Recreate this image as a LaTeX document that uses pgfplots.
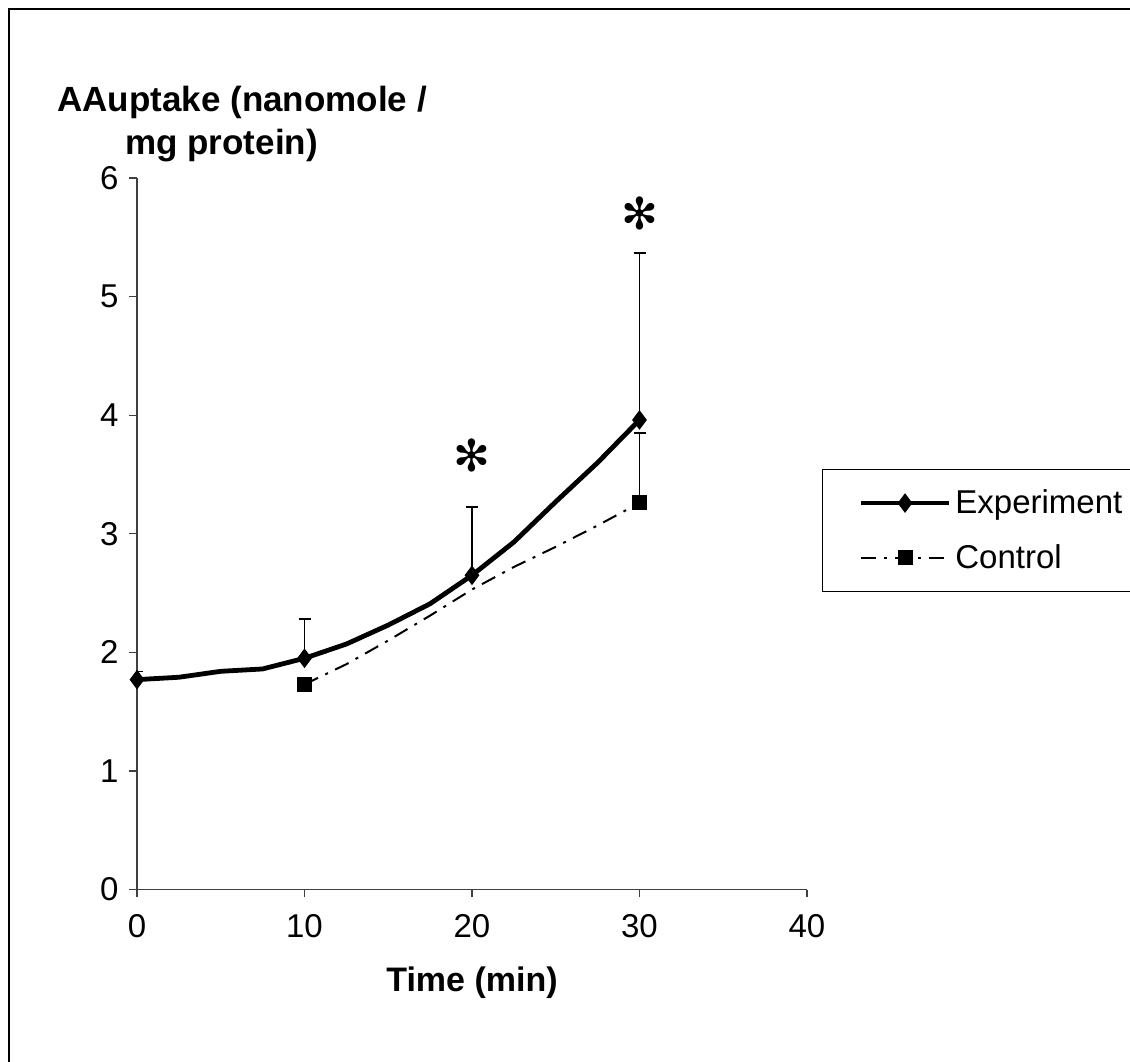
\documentclass[border=0pt]{standalone}
\usepackage{pgfplots}
\pgfplotsset{compat=1.18}
\usepackage{fontspec}
\setmainfont{Liberation Sans}
\newfontfamily\dejavu{DejaVu Sans}

\begin{document}
\begin{tikzpicture}
% page = 1130 x 1061 px, 1 px = 0.5pt, origin at top left
\useasboundingbox (0,0) rectangle (565pt,-530.5pt);
\draw[line width=1pt] (4.25pt,-540pt) -- (4.25pt,-4.25pt) -- (580pt,-4.25pt);

\begin{axis}[
    at={(68.5pt,-444.75pt)}, anchor=south west,
    scale only axis, width=335pt, height=355.75pt,
    xmin=0, xmax=40, ymin=0, ymax=6,
    xtick={0,10,...,40}, ytick={0,1,...,6},
    axis x line=bottom, axis y line=left,
    axis line style={-, line width=0.6pt, black!75},
    tick style={line width=0.6pt, black!75},
    tick align=outside, major tick length=3.75pt,
    /pgf/number format/assume math mode=true,
    tick label style={font=\fontsize{16.5}{19}\selectfont},
    xticklabel style={yshift=-5pt},
    yticklabel style={xshift=-2pt},
    xlabel={\textbf{Time (min)}},
    xlabel style={font=\fontsize{17}{20}\selectfont, yshift=-8pt},
    ylabel={\textbf{AAuptake (nanomole /}\\\hspace*{34pt}\textbf{mg protein)}},
    ylabel style={rotate=-90, at={(rel axis cs:0,1)}, anchor=south west,
        inner sep=0pt, align=left, font=\fontsize{17.5}{21.5}\selectfont,
        xshift=-40pt, yshift=8pt},
    legend style={at={(rel axis cs:1.0224,0.591)}, anchor=north west,
        draw=black, line width=0.6pt, inner xsep=18pt, inner ysep=8pt,
        font=\fontsize{16.5}{19}\selectfont, row sep=10pt,
        legend cell align=left},
    legend image code/.code={
        \draw[mark repeat=2, mark phase=2, #1]
            plot coordinates {(0pt,0pt) (22pt,0pt) (44pt,0pt)};},
]

% error bars (plus only)
\addplot[forget plot, draw=none, mark=none,
    error bars/.cd, y dir=plus, y explicit,
    error mark=-, error mark options={rotate=90, mark size=3pt, line width=0.8pt, black},
    error bar style={draw=black, line width=0.8pt}]
    table[x=t, y=m, y error=e] {
t  m     e
0  1.77  0.07
10 1.95  0.33
20 2.65  0.575
30 3.96  1.41
};
\addplot[forget plot, draw=none, mark=none,
    error bars/.cd, y dir=plus, y explicit,
    error mark=-, error mark options={rotate=90, mark size=3pt, line width=0.8pt, black},
    error bar style={draw=black, line width=0.8pt}]
    table[x=t, y=m, y error=e] {
t  m     e
30 3.26  0.59
};

\addplot[black, line width=2.4pt, mark=diamond*, mark repeat=4,
    mark options={solid, mark size=4.5pt, line width=0.5pt}]
    coordinates {(0,1.77) (2.5,1.79) (5,1.84) (7.5,1.86) (10,1.95) (12.5,2.07)
    (15,2.23) (17.5,2.41) (20,2.65) (22.5,2.93) (25,3.27) (27.5,3.60) (30,3.96)};
\addlegendentry{Experiment\hspace{60pt}}

\addplot[black, line width=1pt, dash pattern=on 7.5pt off 4pt on 1.5pt off 4pt,
    mark=square*, mark repeat=8,
    mark options={solid, mark size=3.5pt, line width=0.5pt}]
    coordinates {(10,1.73) (12.5,1.90) (15,2.10) (17.5,2.31) (20,2.53)
    (22.5,2.72) (25,2.89) (27.5,3.07) (30,3.26)};
\addlegendentry{Control\hspace{60pt}}

\node at (axis cs:20,3.66) {\dejavu\fontsize{22}{22}\selectfont ✻};
\node at (axis cs:30,5.70) {\dejavu\fontsize{22}{22}\selectfont ✻};
\end{axis}
\end{tikzpicture}
\end{document}
